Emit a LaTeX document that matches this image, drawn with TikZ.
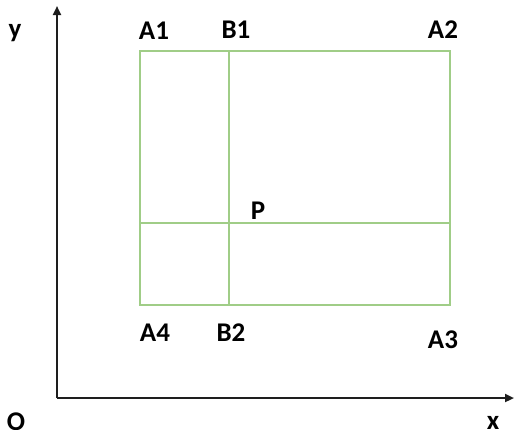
\documentclass[tikz,border=0pt]{standalone}
\usepackage{fontspec}
\setmainfont{Carlito}[BoldFont={Carlito Bold}]
\usetikzlibrary{arrows.meta}
\definecolor{grn}{RGB}{160,205,135}
\definecolor{axc}{RGB}{30,30,30}
\begin{document}
\begin{tikzpicture}[x=1pt,y=-1pt,
  lbl/.style={font=\bfseries\fontsize{27}{30}\selectfont, text=black, inner sep=0pt},
  axis/.style={draw=axc, line width=2.2pt, -{Triangle[length=9pt,width=8pt]}},
  gline/.style={draw=grn, line width=1.6pt}]
\useasboundingbox (0,0) rectangle (514,429);
\coordinate (O) at (57,398);
\coordinate (Ytop) at (57,6);
\coordinate (Xend) at (514,398);
\draw[axis] (O) -- (Ytop);
\draw[axis] (O) -- (Xend);
\coordinate (A1) at (140,51);
\coordinate (A2) at (450,51);
\coordinate (A3) at (450,305);
\coordinate (A4) at (140,305);
\coordinate (B1) at (229,51);
\coordinate (B2) at (229,305);
\coordinate (L) at (140,223);
\coordinate (R) at (450,223);
\draw[gline] (A1) rectangle (A3);
\draw[gline] (B1) -- (B2);
\draw[gline] (L) -- (R);
\node[lbl] (ly) at (15,33) {y};
\node[lbl] (lO) at (16,422) {O};
\node[lbl] (lx) at (493,423) {x};
\node[lbl] (lA1) at (154,31) {A1};
\node[lbl] (lB1) at (236,30) {B1};
\node[lbl] (lA2) at (443,30) {A2};
\node[lbl] (lP) at (258,211) {P};
\node[lbl] (lA4) at (155,333) {A4};
\node[lbl] (lB2) at (231,333) {B2};
\node[lbl] (lA3) at (443,340) {A3};
\end{tikzpicture}
\end{document}
